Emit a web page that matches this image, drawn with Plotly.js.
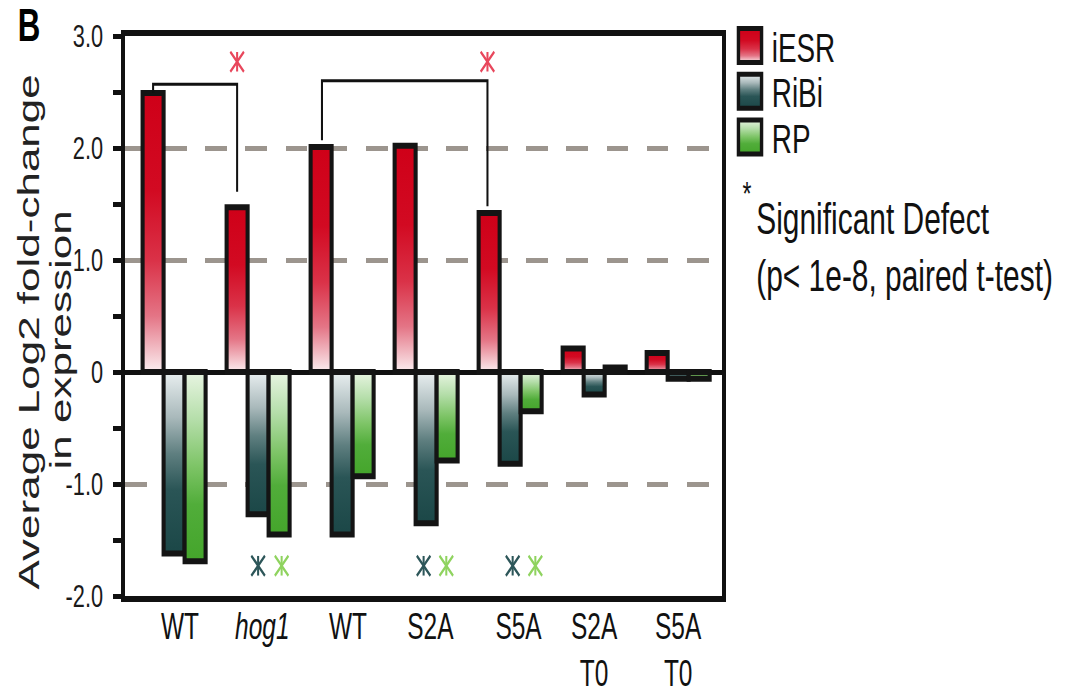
<!DOCTYPE html>
<html><head><meta charset="utf-8">
<script src="https://cdn.plot.ly/plotly-3.0.1.min.js"></script>
<style>
html,body{margin:0;padding:0;overflow:hidden;background:#fff;width:1069px;height:691px}
#wrap{width:1069px;height:691px;overflow:hidden;position:relative}
#plot{width:1572px;height:691px;position:absolute;left:0;top:0;transform:scaleX(0.680025);transform-origin:0 0}
</style></head><body><div id="wrap"><div id="plot"></div></div>
<script>
// ---- data ----
const categoryLabels = ['WT', '<i>hog1</i>', 'WT', 'S2A', 'S5A', 'S2A<br>T0', 'S5A<br>T0'];
const labelPositions = [0.07, 1.05, 2.07, 3.05, 4.10, 5.0, 6.0];
const seriesNames = ['iESR', 'RiBi', 'RP'];
const iESR = [2.49, 1.47, 2.01, 2.02, 1.42, 0.21, 0.17];
const RiBi = [-1.62, -1.27, -1.45, -1.35, -0.82, -0.20, -0.06];
const RP   = [-1.69, -1.45, -0.93, -0.79, -0.35, 0.04, -0.06];
const yTickVals = [3, 2, 1, 0, -1, -2];
const yTickText = ['3.0', '2.0', '1.0', '0', '-1.0', '-2.0'];
const yMinorTickVals = [2.5, 1.5, 0.5, -0.5, -1.5];
// significance brackets (x in category index units, y in data units)
const bracketLeftX  = [-0.25, 1.76];
const bracketRightX = [0.75, 3.73];
const bracketLeftY  = [2.49, 2.07];
const bracketTopY   = [2.57, 2.60];
const bracketRightY = [1.61, 1.48];
// asterisks
const starX = [0.75, 3.73, 1.0, 1.28, 2.97, 3.24, 4.03, 4.30];
const starY = [2.77, 2.77, -1.73, -1.73, -1.73, -1.73, -1.73, -1.73];
const starColors = ['#e8475c', '#e8475c', '#2d5659', '#8fd35f', '#2d5659', '#8fd35f', '#2d5659', '#8fd35f'];
const noteLines = ['Significant Defect', '(p< 1e-8, paired t-test)'];

// ---- styling ----
const FONT = 'Liberation Sans, Arial, Helvetica, sans-serif';
const S = 1069 / 1572;
const W = 1572, H = 691;
const ML = 184, MR = 510, MT = 32, MB = 95;
const plotW = W - ML - MR, plotH = H - MT - MB;
const px = rx => (rx / S - ML) / plotW;      // reference px -> paper x
const py = ry => (H - MB - ry) / plotH;       // reference px -> paper y

const baseColors = ['#d0001a', '#1d4a4a', '#45a52d'];
const gradStops = [
  [[0, '#cf0018'], [0.35, '#d20a22'], [0.6, '#da3248'], [0.8, '#e47586'], [1, '#fbeef0']],
  [[0, '#e9eff0'], [0.25, '#a9b9bb'], [0.45, '#5f7f80'], [0.65, '#2a5556'], [1, '#1b4747']],
  [[0, '#e8f5e2'], [0.25, '#b5deaa'], [0.5, '#7dc466'], [0.7, '#51ad3a'], [1, '#44a52b']]
];
const legendIds = ['legend', 'legend2', 'legend3'];
const legendY = [42, 88, 134];

const xIdx = categoryLabels.map((_, i) => i);
const barSeries = [iESR, RiBi, RP];
const traces = barSeries.map((vals, k) => ({
  type: 'bar', name: seriesNames[k], x: xIdx, y: vals, legend: legendIds[k],
  marker: {color: baseColors[k], line: {color: '#141414', width: 6}},
  hoverinfo: 'skip'
}));
[['x-thin-open', 20], ['line-ns-open', 14]].forEach(([sym, sz]) => traces.push({
  type: 'scatter', mode: 'markers', x: starX, y: starY, showlegend: false, hoverinfo: 'skip',
  marker: {symbol: sym, size: sz, color: starColors, line: {width: 3, color: starColors}}
}));

const shapes = bracketLeftX.map((x0, i) => ({
  type: 'path', xref: 'x', yref: 'y', layer: 'above',
  path: `M${x0},${bracketLeftY[i]}L${x0},${bracketTopY[i]}L${bracketRightX[i]},${bracketTopY[i]}L${bracketRightX[i]},${bracketRightY[i]}`,
  line: {color: '#111', width: 3}
}));

const annotations = [
  {text: '<b>B</b>', x: px(16), y: py(21), xref: 'paper', yref: 'paper', xanchor: 'left', yanchor: 'middle', showarrow: false, font: {family: FONT, size: 46, color: '#000'}},
  {text: 'Average Log2 fold-change', x: px(29), y: py(330), xref: 'paper', yref: 'paper', xanchor: 'center', yanchor: 'middle', textangle: -90, showarrow: false, font: {family: FONT, size: 44, color: '#222'}},
  {text: 'in expression', x: px(61), y: py(338), xref: 'paper', yref: 'paper', xanchor: 'center', yanchor: 'middle', textangle: -90, showarrow: false, font: {family: FONT, size: 44, color: '#222'}},
  {text: '*', x: px(741), y: py(190), xref: 'paper', yref: 'paper', xanchor: 'left', yanchor: 'middle', showarrow: false, font: {family: FONT, size: 34, color: '#111'}},
  {text: noteLines[0], x: px(755), y: py(216), xref: 'paper', yref: 'paper', xanchor: 'left', yanchor: 'middle', showarrow: false, font: {family: FONT, size: 44, color: '#111'}},
  {text: noteLines[1], x: px(755), y: py(273), xref: 'paper', yref: 'paper', xanchor: 'left', yanchor: 'middle', showarrow: false, font: {family: FONT, size: 44, color: '#111'}}
];

const layout = {
  width: W, height: H,
  margin: {l: ML, r: MR, t: MT, b: MB, pad: 0},
  paper_bgcolor: '#fff', plot_bgcolor: '#fff',
  font: {family: FONT, color: '#111'},
  barmode: 'group', bargap: 0.25, bargroupgap: 0,
  xaxis: {
    type: 'linear', range: [-0.583, 6.524], tickvals: labelPositions, ticktext: categoryLabels,
    ticks: '', showgrid: false, zeroline: false, showline: true, mirror: true,
    linecolor: '#111', linewidth: 6, tickfont: {family: FONT, size: 36, color: '#111'},
    ticklabelstandoff: -6, fixedrange: true
  },
  yaxis: {
    range: [-2.0, 3.0], tickvals: yTickVals, ticktext: yTickText,
    ticks: 'outside', ticklen: 12, tickwidth: 5, tickcolor: '#111',
    showline: true, mirror: true, linecolor: '#111', linewidth: 6,
    showgrid: true, gridcolor: '#9c958e', gridwidth: 5, griddash: '32px,27px',
    zeroline: true, zerolinecolor: '#111', zerolinewidth: 5,
    tickfont: {family: FONT, size: 32, color: '#1a1a1a'}, ticklabelstandoff: 8,
    minor: {tickvals: yMinorTickVals, ticks: 'outside', ticklen: 12, tickwidth: 5, tickcolor: '#111', showgrid: false},
    fixedrange: true
  },
  shapes: shapes,
  annotations: annotations
};
legendIds.forEach((id, k) => {
  layout[id] = {
    x: (750 / S - 32 - ML) / plotW, y: py(legendY[k]), xanchor: 'left', yanchor: 'middle',
    xref: 'paper', yref: 'paper', itemwidth: 54, bgcolor: 'rgba(0,0,0,0)', borderwidth: 0,
    font: {family: FONT, size: 41, color: '#111'}
  };
});

function ensureDefs(gd) {
  if (document.getElementById('rk-grad-0')) return;
  const NS = 'http://www.w3.org/2000/svg';
  const svg = gd.querySelector('svg.main-svg');
  const defs = document.createElementNS(NS, 'defs');
  gradStops.forEach((stops, k) => {
    const g = document.createElementNS(NS, 'linearGradient');
    g.setAttribute('id', 'rk-grad-' + k);
    g.setAttribute('x1', '0'); g.setAttribute('y1', '0');
    g.setAttribute('x2', '0'); g.setAttribute('y2', '1');
    stops.forEach(([o, c]) => {
      const s = document.createElementNS(NS, 'stop');
      s.setAttribute('offset', o); s.setAttribute('stop-color', c);
      g.appendChild(s);
    });
    defs.appendChild(g);
  });
  svg.insertBefore(defs, svg.firstChild);
}

function decorate(gd) {
  try { ensureDefs(gd); } catch (e) {}
  try {
    gd.querySelectorAll('.barlayer .trace.bars').forEach((g, k) => {
      g.querySelectorAll('path').forEach(p => { p.style.fill = `url(#rk-grad-${k})`; });
    });
  } catch (e) {}
  let idx = 0;
  gd.querySelectorAll('.legendpoints').forEach(lp => {
    try {
      let k = -1;
      const tr = lp.closest('.traces');
      if (tr) {
        const txt = tr.querySelector('.legendtext');
        if (txt) k = seriesNames.indexOf((txt.textContent || '').trim());
      }
      if (k < 0) k = Math.min(idx, 2);
      idx++;
      lp.querySelectorAll('path').forEach(p => {
        p.setAttribute('d', 'M-17,-17H17V17H-17Z');
        p.style.fill = `url(#rk-grad-${k})`;
        p.style.fillOpacity = '1';
        p.style.stroke = '#141414';
        p.style.strokeWidth = '5px';
      });
    } catch (e) {}
  });
  gd.querySelectorAll('.legend, [class^="legend"]').forEach(el => {
    if (el.tagName && el.tagName.toLowerCase() === 'g') el.removeAttribute('clip-path');
  });
  gd.querySelectorAll('.scrollbox').forEach(el => el.removeAttribute('clip-path'));
}

Plotly.newPlot('plot', traces, layout, {staticPlot: true, displayModeBar: false}).then(gd => {
  decorate(gd);
  let n = 0;
  const iv = setInterval(() => { decorate(gd); if (++n > 30) clearInterval(iv); }, 60);
});
</script></body></html>
